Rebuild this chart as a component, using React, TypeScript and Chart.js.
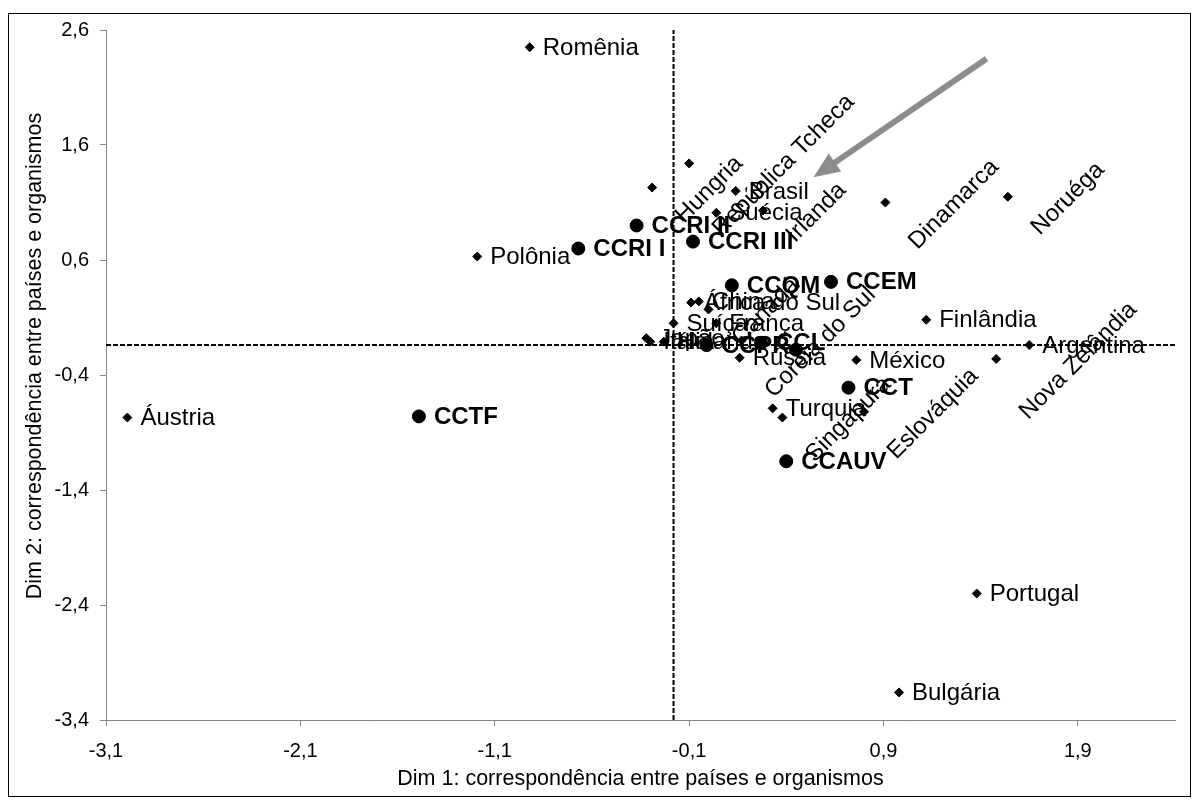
import React, { useEffect, useRef } from 'react';
import { Chart, registerables } from 'chart.js';

Chart.register(...registerables);

// ---- Data (Dim 1, Dim 2) ----
const countryNames = [
  'Romênia', 'Polônia', 'Áustria', 'Portugal', 'Bulgária', 'Finlândia', 'Argentina', 'México',
  'Turquia', 'Singapura', 'Eslováquia', 'Nova Zelândia', 'Noruéga', 'Dinamarca', 'República Tcheca',
  'Hungria', 'Brasil', 'Suécia', 'Irlanda', 'África do Sul', 'China', 'Canadá', 'Suíça', 'França',
  'Japão', 'Itália', 'Holanda', 'Rússia', 'Coreia do Sul',
];
const countryDim1 = [
  -0.92, -1.19, -2.99, 1.38, 0.98, 1.12, 1.65, 0.76,
  0.33, 0.38, 0.80, 1.48, 1.54, 0.91, -0.10,
  -0.29, 0.14, 0.04, 0.28, -0.09, -0.05, 0.0, -0.18, 0.04,
  -0.32, -0.30, -0.23, 0.16, 0.17,
];
const countryDim2 = [
  2.45, 0.63, -0.77, -2.30, -3.16, 0.08, -0.14, -0.27,
  -0.69, -0.77, -0.72, -0.26, 1.15, 1.10, 1.44,
  1.23, 1.20, 1.01, 1.03, 0.23, 0.24, 0.17, 0.05, 0.05,
  -0.08, -0.11, -0.11, -0.25, -0.10,
];
// labels written diagonally in the original
const countryDiagonal = [
  false, false, false, false, false, false, false, false,
  false, true, true, true, true, true, true,
  true, false, false, true, false, false, true, false, false,
  false, false, false, false, true,
];

const committeeNames = ['CCTF', 'CCRI I', 'CCRI II', 'CCRI III', 'CCQM', 'CCEM', 'CCT', 'CCAUV', 'CCPR', 'CCL', 'CCM'];
const committeeDim1 = [-1.49, -0.67, -0.37, -0.08, 0.12, 0.63, 0.72, 0.40, -0.01, 0.27, 0.45];
const committeeDim2 = [-0.76, 0.70, 0.90, 0.76, 0.38, 0.41, -0.51, -1.15, -0.14, -0.12, -0.18];
const committeeLabelShown = [true, true, true, true, true, true, true, true, true, true, false];

const xTicks = [-3.1, -2.1, -1.1, -0.1, 0.9, 1.9];
const yTicks = [2.6, 1.6, 0.6, -0.4, -1.4, -2.4, -3.4];
const xMin = -3.1;
const xMax = 2.4;
const yMin = -3.4;
const yMax = 2.6;

const refDim1 = -0.18; // vertical dashed reference
const refDim2 = -0.14; // horizontal dashed reference

const arrowFrom = { x: 1.43, y: 2.35 };
const arrowTo = { x: 0.54, y: 1.32 };

const xTitle = 'Dim 1: correspondência entre países e organismos';
const yTitle = 'Dim 2: correspondência entre países e organismos';

const FONT = '"Liberation Sans", Arial, Helvetica, sans-serif';

const fmt = (v: number) => v.toFixed(1).replace('.', ',');

const labelPlugin = {
  id: 'pointLabels',
  afterDatasetsDraw(chart: any) {
    const { ctx } = chart;
    const xs = chart.scales.x;
    const ys = chart.scales.y;
    ctx.save();
    ctx.fillStyle = '#000';

    // arrow
    const ax1 = xs.getPixelForValue(arrowFrom.x);
    const ay1 = ys.getPixelForValue(arrowFrom.y);
    const ax2 = xs.getPixelForValue(arrowTo.x);
    const ay2 = ys.getPixelForValue(arrowTo.y);
    const ang = Math.atan2(ay2 - ay1, ax2 - ax1);
    const headLen = 26;
    const headHalf = 11;
    const bx = ax2 - headLen * Math.cos(ang);
    const by = ay2 - headLen * Math.sin(ang);
    ctx.strokeStyle = '#8c8c8c';
    ctx.fillStyle = '#8c8c8c';
    ctx.lineWidth = 6;
    ctx.lineCap = 'butt';
    ctx.beginPath();
    ctx.moveTo(ax1, ay1);
    ctx.lineTo(bx + 2 * Math.cos(ang), by + 2 * Math.sin(ang));
    ctx.stroke();
    ctx.beginPath();
    ctx.moveTo(ax2, ay2);
    ctx.lineTo(bx + headHalf * Math.sin(ang), by - headHalf * Math.cos(ang));
    ctx.lineTo(bx - headHalf * Math.sin(ang), by + headHalf * Math.cos(ang));
    ctx.closePath();
    ctx.fill();

    ctx.fillStyle = '#000';
    ctx.font = `24px ${FONT}`;
    countryNames.forEach((name, i) => {
      const px = xs.getPixelForValue(countryDim1[i]);
      const py = ys.getPixelForValue(countryDim2[i]);
      if (countryDiagonal[i]) {
        const L = ctx.measureText(name).width;
        const cx = px + 19 + (L + 24) * 0.3536;
        const cy = py + 2;
        ctx.save();
        ctx.translate(cx, cy);
        ctx.rotate(-Math.PI / 4);
        ctx.textAlign = 'center';
        ctx.textBaseline = 'middle';
        ctx.fillText(name, 0, 0);
        ctx.restore();
      } else {
        ctx.textAlign = 'left';
        ctx.textBaseline = 'middle';
        ctx.fillText(name, px + 13, py + 1);
      }
    });

    ctx.font = `bold 24px ${FONT}`;
    ctx.textAlign = 'left';
    ctx.textBaseline = 'middle';
    committeeNames.forEach((name, i) => {
      if (!committeeLabelShown[i]) return;
      const px = xs.getPixelForValue(committeeDim1[i]);
      const py = ys.getPixelForValue(committeeDim2[i]);
      ctx.fillText(name, px + 15, py + 1);
    });

    // vertical axis title (centred on the whole chart height, like the original)
    ctx.font = `21.5px ${FONT}`;
    ctx.textAlign = 'center';
    ctx.textBaseline = 'middle';
    ctx.save();
    ctx.translate(26, 342);
    ctx.rotate(-Math.PI / 2);
    ctx.fillText(yTitle, 0, 0);
    ctx.restore();

    ctx.restore();
  },
};

export default function App() {
  const canvasRef = useRef<HTMLCanvasElement | null>(null);

  useEffect(() => {
    if (!canvasRef.current) return;
    const countryData = countryNames.map((_, i) => ({ x: countryDim1[i], y: countryDim2[i] }));
    const committeeData = committeeNames.map((_, i) => ({ x: committeeDim1[i], y: committeeDim2[i] }));

    const chart = new Chart(canvasRef.current, {
      type: 'scatter',
      data: {
        datasets: [
          {
            label: 'Organismos',
            data: committeeData,
            pointStyle: 'circle',
            pointRadius: 6.5,
            backgroundColor: '#000',
            borderColor: '#000',
            borderWidth: 1,
          },
          {
            label: 'Países',
            data: countryData,
            pointStyle: 'rectRot',
            pointRadius: 4.5,
            backgroundColor: '#000',
            borderColor: '#000',
            borderWidth: 1,
          },
          {
            label: 'ref x',
            data: [{ x: refDim1, y: yMin }, { x: refDim1, y: yMax }],
            showLine: true,
            pointRadius: 0,
            borderColor: '#000',
            borderWidth: 2,
            borderDash: [5, 2],
          },
          {
            label: 'ref y',
            data: [{ x: xMin, y: refDim2 }, { x: xMax, y: refDim2 }],
            showLine: true,
            pointRadius: 0,
            borderColor: '#000',
            borderWidth: 2,
            borderDash: [5, 2],
          },
        ],
      },
      options: {
        animation: false,
        responsive: true,
        maintainAspectRatio: false,
        layout: { autoPadding: false, padding: { left: 0, top: 16, right: 15, bottom: 0 } },
        plugins: { legend: { display: false }, tooltip: { enabled: false } },
        scales: {
          x: {
            type: 'linear',
            min: xMin,
            max: xMax,
            afterBuildTicks: (s: any) => { s.ticks = xTicks.map((v) => ({ value: v })); },
            afterFit: (s: any) => { s.height = 76; s.paddingLeft = 0; s.paddingRight = 0; },
            border: { display: true, color: '#868686', width: 1 },
            grid: { display: true, drawOnChartArea: false, drawTicks: true, tickLength: 6, color: '#868686' },
            ticks: {
              color: '#000',
              padding: 13,
              maxRotation: 0,
              font: { family: FONT, size: 20 },
              callback: (v: any) => fmt(Number(v)),
            },
            title: {
              display: true,
              text: xTitle,
              color: '#000',
              font: { family: FONT, size: 21.5 },
              padding: { top: 0, bottom: 4 },
            },
          },
          y: {
            type: 'linear',
            min: yMin,
            max: yMax,
            afterBuildTicks: (s: any) => { s.ticks = yTicks.map((v) => ({ value: v })); },
            afterFit: (s: any) => { s.width = 97; s.paddingTop = 0; s.paddingBottom = 0; },
            border: { display: true, color: '#868686', width: 1 },
            grid: { display: true, drawOnChartArea: false, drawTicks: true, tickLength: 6, color: '#868686' },
            ticks: {
              color: '#000',
              padding: 11,
              font: { family: FONT, size: 20 },
              callback: (v: any) => fmt(Number(v)),
            },
            title: { display: false },
          },
        },
      },
      plugins: [labelPlugin],
    } as any);

    return () => chart.destroy();
  }, []);

  return (
    <div
      style={{
        position: 'absolute',
        left: 8,
        top: 13,
        width: 1183,
        height: 784,
        border: '1px solid #000',
        boxSizing: 'border-box',
        background: '#fff',
      }}
    >
      <div style={{ position: 'relative', width: 1181, height: 782 }}>
        <canvas ref={canvasRef} />
      </div>
    </div>
  );
}
